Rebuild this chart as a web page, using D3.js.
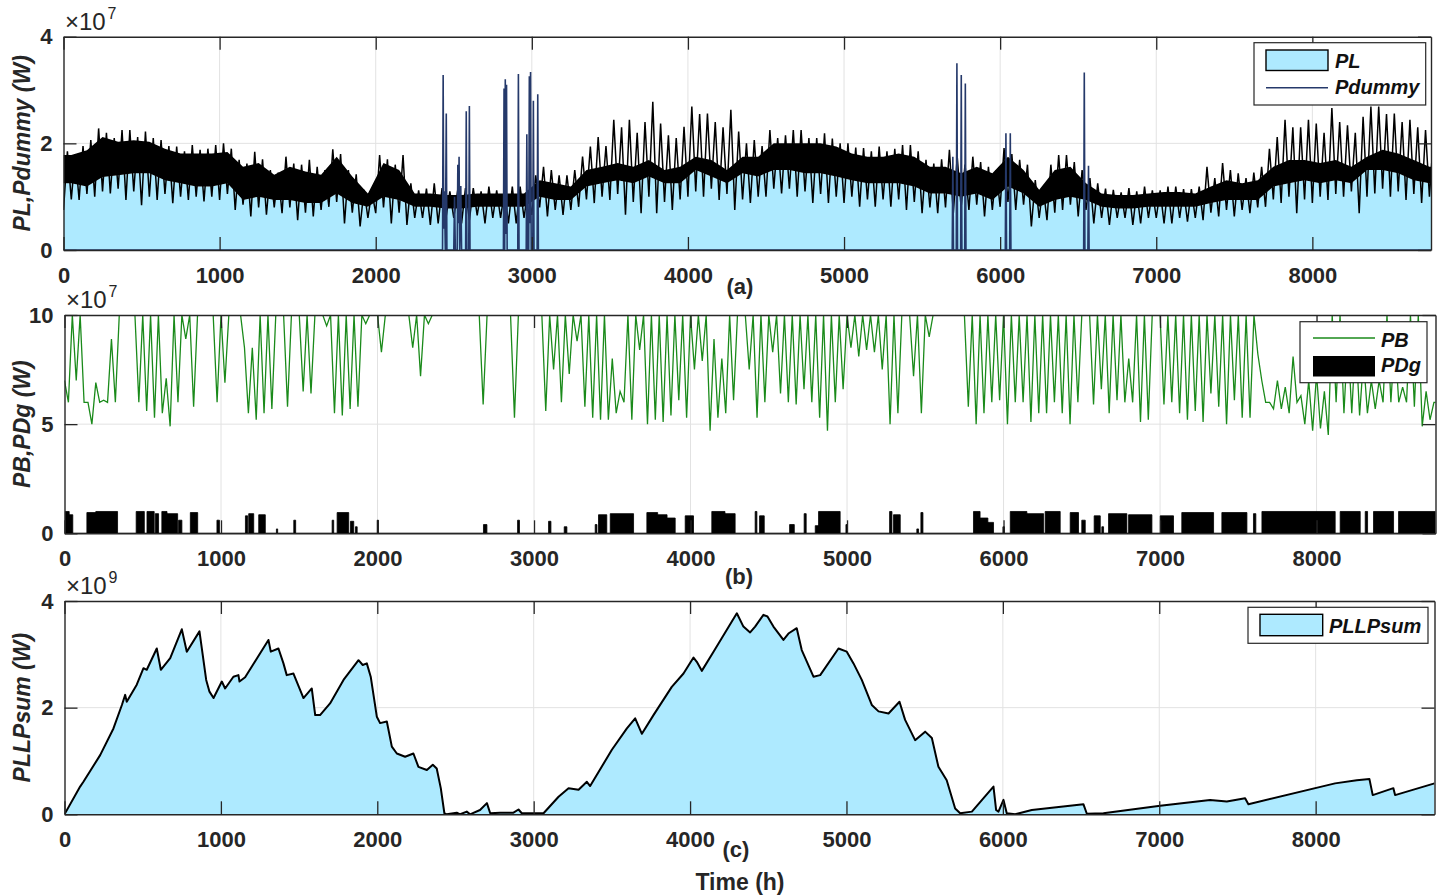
<!DOCTYPE html>
<html>
<head>
<meta charset="utf-8">
<script src="https://cdn.jsdelivr.net/npm/d3@7"></script>
<style>
  body { margin: 0; background: #fff; }
  svg { display: block; }
</style>
</head>
<body>
<svg id="chart" width="1440" height="896"></svg>
<script>
// ---- data ----
const hourMax = 8760;
const xTicks = [0, 1000, 2000, 3000, 4000, 5000, 6000, 7000, 8000];
const yTicksA = [0, 2, 4];      // x1e7 W
const yTicksB = [0, 5, 10];     // x1e7 W
const yTicksC = [0, 2, 4];      // x1e9 W

// (a) PL : dense daily band (x1e7 W), one value per 100 h bin
const plBinHours = 100;
const plBandHi = [1.78,1.87,2.12,2.03,2.06,2.03,1.9,1.81,1.81,1.81,
  1.84,1.56,1.63,1.41,1.56,1.47,1.41,1.75,1.38,1.06,
  1.63,1.5,1.06,1.06,1.03,1.03,1.06,1.06,1.06,1.06,
  1.31,1.25,1.19,1.5,1.56,1.63,1.56,1.69,1.5,1.56,
  1.75,1.69,1.5,1.75,1.75,2.0,2.0,2.0,2.0,1.94,
  1.81,1.75,1.75,1.81,1.75,1.56,1.56,1.44,1.56,1.44,
  1.75,1.5,1.13,1.5,1.56,1.25,1.06,1.03,1.03,1.06,
  1.09,1.09,1.06,1.19,1.31,1.25,1.31,1.56,1.69,1.69,
  1.63,1.69,1.56,1.75,1.88,1.81,1.69,1.56];
const plBandLo = [1.25,1.19,1.37,1.4,1.44,1.44,1.31,1.25,1.19,1.19,
  1.25,0.94,1.0,0.94,0.94,0.88,0.88,1.06,0.88,0.81,
  1.0,0.94,0.81,0.81,0.78,0.78,0.81,0.81,0.81,0.81,
  1.0,0.94,0.94,1.19,1.25,1.31,1.25,1.38,1.25,1.25,
  1.5,1.38,1.25,1.44,1.38,1.5,1.5,1.44,1.44,1.38,
  1.31,1.25,1.25,1.25,1.19,1.06,1.06,1.0,1.06,0.94,
  1.19,1.06,0.81,0.94,1.0,0.94,0.81,0.78,0.78,0.81,
  0.81,0.81,0.81,0.88,0.94,0.94,0.94,1.19,1.25,1.31,
  1.25,1.31,1.25,1.5,1.5,1.44,1.31,1.25];

// (a) PL : peaks and troughs, one pair per 50 h
const plSpikeHours = 50;
const plPeaks = [1.85,1.8,1.95,2.06,2.28,2.2,2.1,2.25,2.25,2.12,2.22,2.1,2.06,1.95,1.94,1.85,1.97,1.88,1.9,1.97,
  2.0,1.9,1.69,1.62,1.84,1.7,1.5,1.45,1.75,1.62,1.6,1.69,1.56,1.5,1.89,1.8,1.5,1.42,1.13,1.1,
  1.78,1.7,1.6,1.78,1.25,1.12,1.15,1.25,1.16,1.1,1.12,1.16,1.16,1.1,1.19,1.12,1.12,1.19,1.19,1.12,
  1.4,1.56,1.5,1.4,1.4,1.5,1.75,1.94,2.12,1.95,2.44,2.3,2.44,2.2,2.4,2.78,2.37,2.15,2.1,2.31,
  2.69,2.55,2.56,2.4,2.3,2.63,2.22,2.0,2.06,1.95,2.25,2.1,2.15,2.25,2.25,2.1,2.1,2.19,2.09,2.0,
  2.0,1.92,1.91,1.85,1.94,1.85,1.9,1.97,1.97,1.85,1.69,1.62,1.7,1.88,1.75,1.6,1.75,1.65,1.56,1.5,
  1.91,1.8,1.69,1.6,1.31,1.2,1.6,1.78,1.78,1.65,1.5,1.35,1.25,1.15,1.13,1.08,1.16,1.1,1.19,1.12,
  1.12,1.19,1.19,1.14,1.14,1.19,1.56,1.35,1.63,1.5,1.44,1.35,1.45,1.56,1.9,2.12,2.44,2.3,2.3,2.44,
  2.37,2.2,2.66,2.4,2.34,2.2,2.5,2.69,2.69,2.55,2.56,2.4,2.44,2.3,2.25,2.1];
const plTroughs = [0.75,0.95,0.94,1.05,1.0,1.1,1.06,1.15,0.94,1.1,0.84,1.0,0.94,1.05,0.88,1.0,0.94,1.0,0.91,1.0,
  0.94,1.05,0.75,0.85,0.63,0.8,0.66,0.8,0.69,0.8,0.56,0.7,0.63,0.75,0.81,0.9,0.5,0.7,0.44,0.6,
  0.69,0.8,0.5,0.7,0.47,0.6,0.6,0.47,0.5,0.6,0.6,0.5,0.56,0.65,0.5,0.6,0.6,0.5,0.5,0.6,
  0.66,0.8,0.63,0.75,0.66,0.75,0.81,0.95,0.88,1.0,0.94,1.05,0.66,0.9,0.69,1.0,0.69,0.9,0.75,0.95,
  1.0,1.1,1.0,1.15,0.94,1.05,0.75,0.95,0.88,1.0,1.0,1.15,1.06,1.15,1.0,1.1,0.88,1.05,0.88,1.0,
  0.88,1.0,0.81,0.95,0.81,0.95,0.81,0.95,0.75,0.9,0.69,0.8,0.69,0.8,0.69,0.8,0.75,0.85,0.63,0.75,
  0.81,0.9,0.75,0.85,0.44,0.6,0.56,0.7,0.75,0.85,0.63,0.75,0.5,0.6,0.47,0.6,0.6,0.47,0.5,0.6,
  0.6,0.5,0.5,0.6,0.53,0.6,0.56,0.7,0.63,0.75,0.63,0.75,0.69,0.8,0.81,0.95,0.88,1.0,0.69,0.95,
  0.88,1.0,0.94,1.05,1.0,1.1,0.69,1.0,1.06,1.15,1.0,1.1,0.94,1.05,0.88,1.0];

// (a) Pdummy (x1e7 W)
const dummyHours = [0, 2428,2432,2436,2440,2446,2452,2456, 2500,2505,2510,
  2522,2526,2530,2534,2538,2545,2550, 2576,2580,2584,2596,2600,2604,
  2818,2822,2826,2830,2834,2838,2842, 2910,2914,2918,
  2964,2968,2972,2980,2984,2988,2992,2996,3006,3010,3014,3034,3038,3042,
  5693,5697,5701,5719,5723,5727,5747,5751,5755,5773,5777,5781,
  6033,6037,6041,6061,6065,6069, 6535,6539,6543,6562,6566,6570, 8760];
const dummyVals = [0, 0,3.28,0.4,1.1,0,2.56,0, 0,1.0,0,
  0,1.6,0.5,1.75,0,1.2,0, 0,2.6,0,0,2.7,0,
  0,3.03,0,3.2,0.3,3.1,0, 0,3.3,0,
  0,2.17,0,0,3.26,0.5,3.34,0,0,2.8,0,0,2.92,0,
  0,1.75,0,0,3.5,0,0,3.28,0,0,3.12,0,
  0,2.19,0,0,2.19,0, 0,3.33,0,0,1.58,0, 0];

// (b) PB (x1e7 W): max / min per 50 h
const pbStepHours = 50;
const pbMax = [7,10,10,6,6.9,6.1,8.9,10,10,10, 10,10,10,7.1,10,10,10,10,10,10,
  10,10,10,8.5,8.5,10,10,10,10,10, 10,10,10,10,10,10,10,10,10,10,
  10,10,10,10,10,10,10,10,10,10, 10,10,10,10,10,10,10,10,10,10,
  10,10,10,10,10,10,10,10,10,10, 8,6.5,10,10,10,10,10,10,10,10,
  10,10,10,8.9,8,10,10,10,10,10, 10,10,10,10,10,10,10,10,10,10,
  10,10,10,10,10,10,10,10,10,10, 10,10,10,10,10,10,10,10,10,10,
  10,10,10,10,10,10,10,10,10,10, 10,10,10,10,10,10,8,10,10,10,
  10,10,10,10,10,10,10,10,10,10, 10,10,10,7,6,7,6.7,8.1,6.3,7,
  7.3,6.5,10,10,9,9,8,7,7,10, 9,6.7,10,10,6.5,6];
const pbMin = [6,7,6,5.0,6,6,6,10,10,6, 5.6,5.3,5.5,4.9,6,8.9,5.8,10,10,6,
  6.9,10,10,5.5,5.2,5.5,5.7,10,5.8,10, 6.5,6.4,10,9.5,5.5,5.4,5.7,5.8,9.6,10,
  8.3,10,10,10,8.5,7.2,9.6,10,10,10, 10,10,10,5.9,10,10,10,5.3,10,10,
  10,5.6,7.5,6.0,7.3,8.8,5.8,5.3,5.2,5.2, 5.5,6,5.2,8.4,5.0,5.2,5.1,5.4,6.1,5.3,
  7.5,7.9,4.7,5.3,5.5,6.1,10,7.5,5.3,6, 8.3,6.4,6,5.9,6.6,6,5.3,4.7,6,6.6,
  8.5,8.1,8.4,8.3,7.5,5.0,5.5,10,7.2,5.5, 9,10,10,10,10,5.8,5.0,5.5,6,6.1,
  5.0,6,6,5.1,5.5,5.5,6,5.5,5.0,6, 10,5.9,6.6,5.5,6.1,6,6,5.1,5.2,10,
  5.9,6,5.5,5.2,5.6,5.1,6.4,5.8,5.0,6.1, 5.3,5.3,8.2,6,5.7,5.7,5.5,6,5.0,4.7,
  4.8,4.5,6,5.5,5.5,5.4,5.5,5.7,6,6, 6,6,5.8,4.9,5.2,6];

// (b) PDg (x1e7 W): on-periods
const pdgStart = [4,30,143,200,458,527,580,622,655,729,804,974,1156,1177,1241,1354,1465,1710,1742,1827,1859,1998,
  2677,2895,3093,3193,3391,3412,3487,3721,3790,3850,3966,4136,4220,4413,4441,4633,4726,4797,4818,4993,5272,5297,
  5446,5472,5808,5850,5900,5996,6043,6149,6266,6426,6500,6579,6628,6671,6799,7001,7139,7395,7597,7651,8151,8311,8364,8524];
const pdgEnd = [30,53,200,339,510,573,601,655,723,750,851,990,1170,1209,1283,1362,1477,1720,1816,1848,1870,2006,
  2699,2907,3108,3210,3402,3465,3636,3790,3850,3902,4019,4220,4285,4424,4471,4663,4739,4818,4956,5003,5287,5340,
  5457,5485,5850,5900,5936,6006,6149,6256,6362,6479,6522,6618,6639,6788,6948,7086,7342,7555,7612,8119,8279,8326,8492,8760];
const pdgLevel = [1.0,0.85,0.95,1.0,1.0,1.0,0.9,1.0,0.9,0.6,0.95,0.6,0.8,0.9,0.85,0.2,0.6,0.6,0.95,0.55,0.3,0.6,
  0.4,0.6,0.55,0.3,0.4,0.85,0.9,0.95,0.85,0.7,0.8,1.0,0.9,1.0,0.8,0.4,0.9,0.35,1.0,0.4,1.0,0.85,
  0.2,0.95,1.0,0.7,0.5,0.3,1.0,0.9,1.0,0.95,0.6,0.8,0.3,0.9,0.85,0.8,0.95,0.95,0.9,1.0,1.0,1.0,1.0,1.0];

// (c) PLLPsum (x1e9 W)
const lpsHours = [0,100,121,228,313,367,388,398,462,505,526,590,616,676,750,782,863,906,927,953,
  1006,1027,1080,1112,1119,1155,1304,1319,1368,1400,1421,1464,1496,1528,1581,1603,1634,1698,1784,1880,
  1907,1933,1958,1997,2018,2061,2093,2125,2178,2231,2263,2317,2355,2380,2406,2429,2444,2508,2530,2572,
  2593,2657,2701,2722,2786,2871,2903,2924,3063,3159,3223,3287,3340,3361,3500,3596,3649,3692,3766,3883,
  3958,4022,4043,4075,4150,4299,4341,4384,4416,4469,4495,4533,4597,4629,4682,4714,4789,4832,4949,5002,
  5045,5098,5162,5205,5269,5339,5375,5439,5503,5546,5588,5641,5695,5727,5802,5940,5957,5972,6004,6025,
  6079,6185,6515,6537,6643,7006,7325,7432,7549,7570,8124,8263,8344,8365,8497,8508,8760];
const lpsVals = [0,0.52,0.61,1.11,1.61,2.05,2.24,2.11,2.43,2.74,2.71,3.11,2.71,2.93,3.47,3.05,3.43,2.52,2.3,2.18,
  2.49,2.36,2.58,2.61,2.49,2.57,3.27,3.05,3.11,2.83,2.61,2.64,2.41,2.18,2.36,1.86,1.86,2.08,2.52,2.89,
  2.8,2.83,2.58,1.83,1.71,1.74,1.27,1.14,1.08,1.14,0.89,0.83,0.93,0.86,0.49,0.02,0,0.03,0,0.05,
  0,0.08,0.21,0.02,0.03,0.03,0.09,0.02,0.02,0.33,0.49,0.46,0.61,0.53,1.21,1.61,1.8,1.51,1.86,2.39,
  2.64,2.94,2.86,2.69,3.05,3.77,3.52,3.41,3.52,3.74,3.71,3.52,3.27,3.39,3.49,3.08,2.58,2.61,3.11,3.05,
  2.83,2.52,2.05,1.93,1.89,2.11,1.77,1.39,1.55,1.43,0.89,0.64,0.11,0.02,0.05,0.52,0.08,0.05,0.27,0.02,
  0,0.08,0.19,0.01,0.02,0.16,0.27,0.24,0.3,0.19,0.58,0.64,0.66,0.36,0.49,0.36,0.58];

// ---- drawing ----
const svg = d3.select("#chart");
const FONT = '"Liberation Sans", Arial, Helvetica, sans-serif';
const INK = "#262626";
const FILL_BLUE = "#aeeaff";
const PB_GREEN = "#1a8a1a";
const DUMMY_NAVY = "#25396a";

const panelA = {id: "a", left: 63.5, right: 1431, top: 36.7, bottom: 250, yMax: 4, yTicks: yTicksA,
  exp: "7", title: "PL,Pdummy (W)", tag: "(a)", tagX: 740, tagY: 294};
const panelB = {id: "b", left: 64.5, right: 1435.5, top: 315, bottom: 533.3, yMax: 10, yTicks: yTicksB,
  exp: "7", title: "PB,PDg (W)", tag: "(b)", tagX: 739, tagY: 584};
const panelC = {id: "c", left: 64.5, right: 1434.5, top: 601, bottom: 814.3, yMax: 4, yTicks: yTicksC,
  exp: "9", title: "PLLPsum (W)", tag: "(c)", tagX: 736, tagY: 857};

function makePanel(p) {
  const x = d3.scaleLinear().domain([0, hourMax]).range([p.left, p.right]);
  const y = d3.scaleLinear().domain([0, p.yMax]).range([p.bottom, p.top]);
  const g = svg.append("g");

  // grid
  g.append("g").selectAll("line")
    .data(xTicks.filter(t => t > 0))
    .join("line")
      .attr("x1", d => x(d)).attr("x2", d => x(d))
      .attr("y1", p.top).attr("y2", p.bottom)
      .attr("stroke", "#e2e2e2").attr("stroke-width", 1);
  g.append("g").selectAll("line")
    .data(p.yTicks.filter(t => t > 0 && t < p.yMax))
    .join("line")
      .attr("x1", p.left).attr("x2", p.right)
      .attr("y1", d => y(d)).attr("y2", d => y(d))
      .attr("stroke", "#e2e2e2").attr("stroke-width", 1);

  svg.append("clipPath").attr("id", "clip-" + p.id)
    .append("rect")
      .attr("x", p.left).attr("y", p.top)
      .attr("width", p.right - p.left).attr("height", p.bottom - p.top);
  const plot = g.append("g").attr("clip-path", `url(#clip-${p.id})`);
  return {x, y, g, plot, p};
}

function finishPanel(P) {
  const {x, y, g, p} = P;
  const ax = g.append("g");
  ax.append("g").attr("transform", `translate(0,${p.bottom})`)
    .call(d3.axisBottom(x).tickValues(xTicks).tickFormat(d3.format("d"))
      .tickSizeInner(-13).tickSizeOuter(0).tickPadding(17));
  ax.append("g").attr("transform", `translate(0,${p.top})`)
    .call(d3.axisTop(x).tickValues(xTicks).tickFormat("")
      .tickSizeInner(-13).tickSizeOuter(0));
  ax.append("g").attr("transform", `translate(${p.left},0)`)
    .call(d3.axisLeft(y).tickValues(p.yTicks).tickFormat(d3.format("d"))
      .tickSizeInner(-13).tickSizeOuter(0).tickPadding(11));
  ax.append("g").attr("transform", `translate(${p.right},0)`)
    .call(d3.axisRight(y).tickValues(p.yTicks).tickFormat("")
      .tickSizeInner(-13).tickSizeOuter(0));
  ax.selectAll(".domain").attr("stroke", INK).attr("stroke-width", 1.4);
  ax.selectAll(".tick line").attr("stroke", INK).attr("stroke-width", 1.3);
  ax.selectAll(".tick text")
    .attr("font-family", FONT).attr("font-size", 22)
    .attr("font-weight", "bold").attr("fill", INK);

  // x10^n multiplier
  g.append("text")
    .attr("x", p.left + 1.5).attr("y", p.top - 7)
    .attr("font-family", FONT).attr("font-size", 24).attr("fill", INK)
    .text("\u00d710");
  g.append("text")
    .attr("x", p.left + 44).attr("y", p.top - 18)
    .attr("font-family", FONT).attr("font-size", 16).attr("fill", INK)
    .text(p.exp);

  // y title
  g.append("text")
    .attr("transform", `translate(22,${(p.top + p.bottom) / 2}) rotate(-90)`)
    .attr("text-anchor", "middle").attr("dominant-baseline", "central")
    .attr("font-family", FONT).attr("font-size", 23)
    .attr("font-weight", "bold").attr("font-style", "italic").attr("fill", INK)
    .text(p.title);

  // panel tag
  g.append("text")
    .attr("x", p.tagX).attr("y", p.tagY).attr("text-anchor", "middle")
    .attr("font-family", FONT).attr("font-size", 22)
    .attr("font-weight", "bold").attr("fill", INK)
    .text(p.tag);
}

function legendBox(x0, y0, w, h) {
  svg.append("rect")
    .attr("x", x0).attr("y", y0).attr("width", w).attr("height", h)
    .attr("fill", "#fff").attr("stroke", INK).attr("stroke-width", 1.2);
}
function legendText(x0, y0, label) {
  svg.append("text")
    .attr("x", x0).attr("y", y0)
    .attr("font-family", FONT).attr("font-size", 20)
    .attr("font-weight", "bold").attr("font-style", "italic").attr("fill", "#111")
    .text(label);
}

// ---------- panel (a) ----------
const A = makePanel(panelA);
const bandPts = plBandHi.map((hi, i) => ({h: i * plBinHours + plBinHours / 2, hi, lo: plBandLo[i]}));
bandPts.unshift({h: 0, hi: plBandHi[0], lo: plBandLo[0]});
bandPts.push({h: hourMax, hi: plBandHi[plBandHi.length - 1], lo: plBandLo[plBandLo.length - 1]});

A.plot.append("path")
  .datum(bandPts)
  .attr("fill", FILL_BLUE)
  .attr("d", d3.area().x(d => A.x(d.h)).y0(A.y(0)).y1(d => A.y(d.lo)));

A.plot.append("path")
  .datum(bandPts)
  .attr("fill", "#000")
  .attr("d", d3.area().x(d => A.x(d.h)).y0(d => A.y(d.lo)).y1(d => A.y(d.hi)));

const plLine = [];
plPeaks.forEach((pk, i) => {
  plLine.push({h: i * plSpikeHours, v: plTroughs[i]});
  plLine.push({h: i * plSpikeHours + plSpikeHours / 2, v: pk});
});
A.plot.append("path")
  .datum(plLine)
  .attr("fill", "none").attr("stroke", "#000").attr("stroke-width", 1.5)
  .attr("d", d3.line().x(d => A.x(d.h)).y(d => A.y(d.v)));

A.plot.append("path")
  .datum(dummyHours.map((h, i) => ({h, v: dummyVals[i]})))
  .attr("fill", "none").attr("stroke", DUMMY_NAVY).attr("stroke-width", 1.6)
  .attr("d", d3.line().x(d => A.x(d.h)).y(d => A.y(d.v)));

finishPanel(A);

legendBox(1254, 42.7, 171.7, 62.3);
svg.append("rect").attr("x", 1266).attr("y", 50).attr("width", 62).attr("height", 20.5)
  .attr("fill", FILL_BLUE).attr("stroke", "#000").attr("stroke-width", 1.4);
legendText(1335, 68, "PL");
svg.append("line").attr("x1", 1266).attr("x2", 1328).attr("y1", 87.7).attr("y2", 87.7)
  .attr("stroke", DUMMY_NAVY).attr("stroke-width", 1.6);
legendText(1335, 94, "Pdummy");

// ---------- panel (b) ----------
const B = makePanel(panelB);

const pdgPts = [];
pdgStart.forEach((s, i) => {
  pdgPts.push({h: s, v: 0}, {h: s, v: pdgLevel[i]}, {h: pdgEnd[i], v: pdgLevel[i]}, {h: pdgEnd[i], v: 0});
});
B.plot.append("path")
  .datum(pdgPts)
  .attr("fill", "#000").attr("stroke", "#000").attr("stroke-width", 0.8)
  .attr("d", d3.area().x(d => B.x(d.h)).y0(B.y(0)).y1(d => B.y(d.v)));

const pbLine = [];
pbMax.forEach((mx, i) => {
  pbLine.push({h: i * pbStepHours, v: mx});
  pbLine.push({h: i * pbStepHours + pbStepHours / 2, v: pbMin[i]});
});
pbLine.push({h: hourMax, v: pbMax[pbMax.length - 1]});
B.plot.append("path")
  .datum(pbLine)
  .attr("fill", "none").attr("stroke", PB_GREEN).attr("stroke-width", 1.3)
  .attr("d", d3.line().x(d => B.x(d.h)).y(d => B.y(d.v)));

finishPanel(B);

legendBox(1300, 321.7, 127, 61);
svg.append("line").attr("x1", 1313).attr("x2", 1375).attr("y1", 338).attr("y2", 338)
  .attr("stroke", PB_GREEN).attr("stroke-width", 1.4);
legendText(1381, 347, "PB");
svg.append("rect").attr("x", 1313).attr("y", 356).attr("width", 62).attr("height", 20.5)
  .attr("fill", "#000");
legendText(1381, 372, "PDg");

// ---------- panel (c) ----------
const C = makePanel(panelC);
const lpsPts = lpsHours.map((h, i) => ({h, v: lpsVals[i]}));
C.plot.append("path")
  .datum(lpsPts)
  .attr("fill", FILL_BLUE)
  .attr("d", d3.area().x(d => C.x(d.h)).y0(C.y(0)).y1(d => C.y(d.v)));
C.plot.append("path")
  .datum(lpsPts)
  .attr("fill", "none").attr("stroke", "#000").attr("stroke-width", 2)
  .attr("stroke-linejoin", "round")
  .attr("d", d3.line().x(d => C.x(d.h)).y(d => C.y(d.v)));

finishPanel(C);

legendBox(1248, 607.3, 180, 36);
svg.append("rect").attr("x", 1260).attr("y", 614.3).attr("width", 62.7).attr("height", 21.4)
  .attr("fill", FILL_BLUE).attr("stroke", "#000").attr("stroke-width", 1.4);
legendText(1329, 633, "PLLPsum");

// x-axis title
svg.append("text")
  .attr("x", 740).attr("y", 890).attr("text-anchor", "middle")
  .attr("font-family", FONT).attr("font-size", 23)
  .attr("font-weight", "bold").attr("fill", INK)
  .text("Time (h)");
</script>
</body>
</html>
